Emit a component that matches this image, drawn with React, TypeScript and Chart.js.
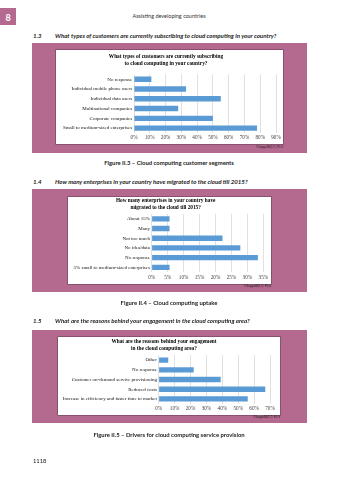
import React, { useEffect, useRef } from "react";
import { Chart, registerables } from "chart.js";
Chart.register(...registerables);

const SERIF = "'Liberation Serif', 'Times New Roman', serif";
const SANS = "Lato, 'Open Sans', sans-serif";
const PINK = "#b4698f";
const BAR = "#5b9bd5";

// Figure II.3
const c1Title = ["What types of customers are currently subscribing", "to cloud computing in your country?"];
const c1Labels = [
  "No response",
  "Individual mobile phone users",
  "Individual data users",
  "Multinational companies",
  "Corporate companies",
  "Small to medium-sized enterprises",
];
const c1Values = [11, 33, 55, 28, 50, 78];
const c1Max = 90;
const c1Step = 10;

// Figure II.4
const c2Title = ["How many enterprises in your country have", "migrated to the cloud till 2015?"];
const c2Labels = [
  "About 15%",
  "Many",
  "Not too much",
  "No idea/data",
  "No response",
  "5% small to medium-sized enterprises",
];
const c2Values = [5.6, 5.6, 22.2, 27.8, 33.3, 5.6];
const c2Max = 35;
const c2Step = 5;

// Figure II.5
const c3Title = ["What are the reasons behind your engagement", "in the cloud computing area?"];
const c3Labels = [
  "Other",
  "No response",
  "Customer on-demand service provisioning",
  "Reduced costs",
  "Increase in efficiency and faster time to market",
];
const c3Values = [6, 22, 39, 67, 56];
const c3Max = 70;
const c3Step = 10;

type BCProps = {
  title: string[];
  labels: string[];
  values: number[];
  max: number;
  step: number;
  x: number;
  y: number;
  w: number;
  h: number;
  yW: number;
  padRight: number;
  tTop: number;
  tBottom: number;
  xH: number;
};

function BarChart(p: BCProps) {
  const ref = useRef<HTMLCanvasElement>(null);
  useEffect(() => {
    const chart = new Chart(ref.current!, {
      type: "bar",
      data: {
        labels: p.labels,
        datasets: [
          {
            data: p.values,
            backgroundColor: BAR,
            barPercentage: 0.55,
            categoryPercentage: 1,
          },
        ],
      },
      options: {
        indexAxis: "y",
        responsive: false,
        animation: false,
        layout: { padding: { left: 0, right: p.padRight, top: 0, bottom: 0 } },
        plugins: {
          legend: { display: false },
          tooltip: { enabled: false },
          title: {
            display: true,
            text: p.title,
            color: "#000",
            font: { family: SERIF, size: 5.3, weight: "bold", lineHeight: 1.25 },
            padding: { top: p.tTop, bottom: p.tBottom },
          },
        },
        scales: {
          x: {
            min: 0,
            max: p.max,
            ticks: {
              stepSize: p.step,
              callback: (v: any) => v + "%",
              font: { family: SERIF, size: 5.2 },
              color: "#404040",
              padding: 2,
              maxRotation: 0,
              autoSkip: false,
            },
            grid: { color: "#d9d9d9", drawTicks: false, lineWidth: 0.8 },
            border: { display: false },
            afterFit: (s: any) => {
              s.height = p.xH;
            },
          },
          y: {
            ticks: {
              font: { family: SERIF, size: 5 },
              color: "#111",
              padding: 1.8,
              autoSkip: false,
            },
            grid: { display: false, drawTicks: false },
            border: { display: false },
            afterFit: (s: any) => {
              s.width = p.yW;
            },
          },
        },
      },
    } as any);
    return () => chart.destroy();
  }, []);
  return (
    <canvas
      ref={ref}
      width={p.w}
      height={p.h}
      style={{
        position: "absolute",
        left: p.x,
        top: p.y,
        width: p.w,
        height: p.h,
        background: "#fff",
        boxShadow: "0 0 0 0.6px rgba(60,40,50,0.6)",
      }}
    />
  );
}

type TProps = {
  x: number;
  y: number;
  text: string;
  size: number;
  align?: "left" | "center" | "right";
  weight?: number | string;
  italic?: boolean;
  color?: string;
  family?: string;
};

function T(p: TProps) {
  const tx = p.align === "center" ? "-50%" : p.align === "right" ? "-100%" : "0";
  return (
    <div
      style={{
        position: "absolute",
        left: p.x,
        top: p.y,
        transform: `translate(${tx}, -50%)`,
        fontSize: p.size,
        lineHeight: 1,
        whiteSpace: "nowrap",
        fontFamily: p.family || SANS,
        fontWeight: p.weight || 400,
        fontStyle: p.italic ? "italic" : "normal",
        color: p.color || "#1a1a1a",
      }}
    >
      {p.text}
    </div>
  );
}

function Frame({ x, y, w, h }: { x: number; y: number; w: number; h: number }) {
  return <div style={{ position: "absolute", left: x, top: y, width: w, height: h, background: PINK }} />;
}

const QS = 6.1;
const CS = 5.9;

export default function App() {
  return (
    <div
      style={{
        position: "absolute",
        left: 0,
        top: 0,
        width: 339,
        height: 480,
        background: "#fff",
        overflow: "hidden",
      }}
    >
      <div style={{ position: "absolute", left: 0, top: 8, width: 16, height: 17, background: PINK }} />
      <T x={8} y={16.5} text="8" size={9} align="center" color="#fff" weight={700} />
      <T x={169} y={17} text="Assisting developing countries" size={5.5} align="center" color="#333" />

      <T x={33} y={36} text="1.3" size={QS} weight={700} italic />
      <T x={55} y={36} text="What types of customers are currently subscribing to cloud computing in your country?" size={QS} weight={700} italic />
      <Frame x={32} y={43} w={275} h={110} />
      <BarChart
        title={c1Title}
        labels={c1Labels}
        values={c1Values}
        max={c1Max}
        step={c1Step}
        x={56}
        y={50}
        w={227}
        h={94}
        yW={78}
        padRight={7}
        tTop={3.7}
        tBottom={7.4}
        xH={11}
      />
      <T x={283} y={147.5} text="Y.Supp.48(17)_FII.3" size={3.2} align="right" color="#222" />
      <T x={169} y={163} text="Figure II.3 – Cloud computing customer segments" size={CS} align="center" weight={700} />

      <T x={33} y={182} text="1.4" size={QS} weight={700} italic />
      <T x={55} y={182} text="How many enterprises in your country have migrated to the cloud till 2015?" size={QS} weight={700} italic />
      <Frame x={32} y={189} w={275} h={103} />
      <BarChart
        title={c2Title}
        labels={c2Labels}
        values={c2Values}
        max={c2Max}
        step={c2Step}
        x={68}
        y={197}
        w={203}
        h={87}
        yW={83.7}
        padRight={7.7}
        tTop={0.6}
        tBottom={3.1}
        xH={11.8}
      />
      <T x={271} y={287} text="Y.Supp.48(17)_FII.4" size={3.2} align="right" color="#222" />
      <T x={169} y={303} text="Figure II.4 – Cloud computing uptake" size={CS} align="center" weight={700} />

      <T x={33} y={321} text="1.5" size={QS} weight={700} italic />
      <T x={55} y={321} text="What are the reasons behind your engagement in the cloud computing area?" size={QS} weight={700} italic />
      <Frame x={32} y={330} w={275} h={93} />
      <BarChart
        title={c3Title}
        labels={c3Labels}
        values={c3Values}
        max={c3Max}
        step={c3Step}
        x={58}
        y={337}
        w={222}
        h={78}
        yW={100.7}
        padRight={10}
        tTop={1.6}
        tBottom={3.4}
        xH={11.2}
      />
      <T x={280} y={418} text="Y.Supp.48(17)_FII.5" size={3.2} align="right" color="#222" />
      <T x={169} y={435} text="Figure II.5 – Drivers for cloud computing service provision" size={CS} align="center" weight={700} />

      <T x={33} y={461} text="1118" size={5.8} color="#222" />
    </div>
  );
}
